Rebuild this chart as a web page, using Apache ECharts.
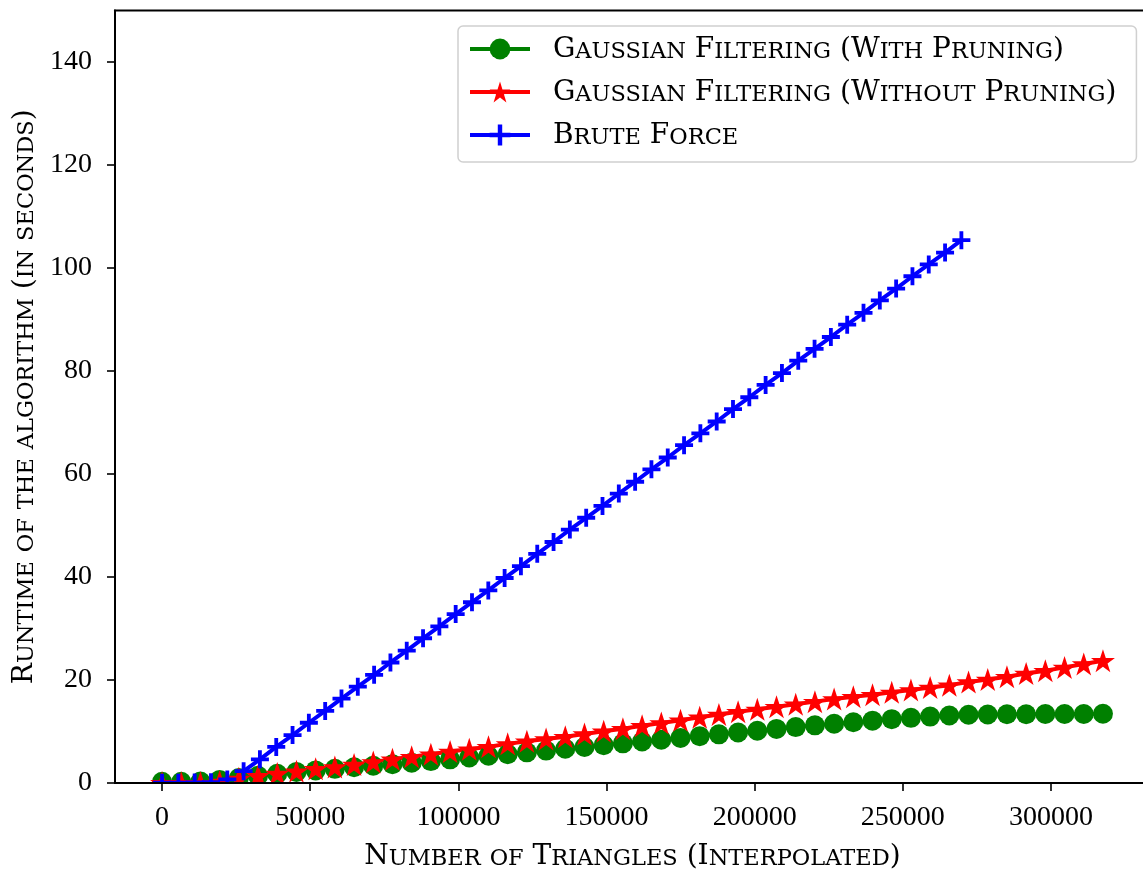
<!DOCTYPE html>
<html><head><meta charset="utf-8">
<script src="https://cdn.jsdelivr.net/npm/echarts@6/dist/echarts.min.js"></script>
<style>html,body{margin:0;padding:0;background:#fff}#c{width:1143px;height:869px}</style>
</head><body><div id="c"></div>
<script>
const seriesNames = ['Gaussian Filtering (With Pruning)', 'Gaussian Filtering (Without Pruning)', 'Brute Force'];
const xTitle = 'Number of Triangles (Interpolated)';
const yTitle = 'Runtime of the algorithm (in seconds)';
const xTicks = [0, 50000, 100000, 150000, 200000, 250000, 300000];
const yTicks = [0, 20, 40, 60, 80, 100, 120, 140];

const filterX = [0,6480,12960,19440,25920,32400,38880,45360,51840,58320,64800,71280,77760,84240,90720,97200,103680,110160,116640,123120,129600,136080,142560,149040,155520,162000,168480,174960,181440,187920,194400,200880,207360,213840,220320,226800,233280,239760,246240,252720,259200,265680,272160,278640,285120,291600,298080,304560,311040,317520];
const withPruning = [0.25,0.25,0.3,0.6,0.95,1.4,1.8,2.15,2.45,2.75,3.05,3.35,3.65,3.95,4.25,4.6,4.95,5.3,5.6,5.95,6.3,6.65,7.0,7.35,7.7,8.05,8.4,8.75,9.1,9.45,9.8,10.15,10.5,10.85,11.2,11.5,11.8,12.1,12.4,12.65,12.9,13.1,13.25,13.3,13.35,13.35,13.4,13.4,13.4,13.45];
const withoutPruning = [0.05,0.05,0.05,0.3,0.9,1.4,1.85,2.3,2.75,3.1,3.6,4.1,4.6,5.1,5.6,6.1,6.55,7.05,7.6,8.1,8.55,9.0,9.5,10.05,10.55,11.1,11.65,12.2,12.75,13.3,13.85,14.3,14.8,15.3,15.8,16.3,16.75,17.15,17.6,18.05,18.55,19.0,19.6,20.1,20.65,21.25,21.8,22.45,23.1,23.75];
const bruteX = [0,5505,11010,16515,22020,27525,33030,38535,44040,49545,55050,60555,66060,71565,77070,82575,88080,93585,99090,104595,110100,115605,121110,126615,132120,137625,143130,148635,154140,159645,165150,170655,176160,181665,187170,192675,198180,203685,209190,214695,220200,225705,231210,236715,242220,247725,253230,258735,264240,269745];
const bruteForce = [0.05,0.05,0.1,0.15,0.7,2.3,4.6,7.0,9.3,11.7,14.0,16.4,18.7,21.0,23.4,25.7,28.1,30.4,32.8,35.1,37.4,39.8,42.1,44.5,46.8,49.2,51.5,53.8,56.2,58.5,60.9,63.2,65.6,67.9,70.2,72.6,74.9,77.3,79.6,82.0,84.3,86.6,89.0,91.3,93.7,96.0,98.4,100.7,103.0,105.4];

function smallCaps(str) {
  let out = '', cur = null, buf = '';
  for (const ch of str) {
    let st, c;
    if (ch >= 'a' && ch <= 'z') { st = 's'; c = ch.toUpperCase(); } else { st = 'b'; c = ch; }
    if (st !== cur) { if (buf) out += '{' + cur + '|' + buf + '}'; cur = st; buf = ''; }
    buf += c;
  }
  if (buf) out += '{' + cur + '|' + buf + '}';
  return out;
}

const FONT = 'DejaVu Serif';
function richStyles(lh) {
  return {
    b: { fontFamily: FONT, fontSize: 28, lineHeight: lh, verticalAlign: 'bottom', color: '#000' },
    s: { fontFamily: FONT, fontSize: 22.5, lineHeight: lh, verticalAlign: 'bottom', color: '#000' },
    g: { width: 18, lineHeight: lh }
  };
}

const starPath = 'path://M0,-100 L22.45,-30.9 L95.1,-30.9 L36.3,11.8 L58.8,80.9 L0,38.2 L-58.8,80.9 L-36.3,11.8 L-95.1,-30.9 L-22.45,-30.9 Z';
const crossPath = 'path://M-1.7,-8 L1.7,-8 L1.7,-1.7 L8,-1.7 L8,1.7 L1.7,1.7 L1.7,8 L-1.7,8 L-1.7,1.7 L-8,1.7 L-8,-1.7 L-1.7,-1.7 Z';

const chart = echarts.init(document.getElementById('c'), null, { renderer: 'canvas' });
chart.setOption({
  animation: false,
  backgroundColor: '#fff',
  grid: { left: 115, top: 10.5, right: -7, bottom: 86, containLabel: false, outerBoundsMode: 'none',
          show: true, borderColor: '#000', borderWidth: 2, backgroundColor: 'transparent' },
  legend: {
    orient: 'vertical', left: 458, top: 26, padding: [10, 20, 12, 10],
    itemWidth: 60, itemHeight: 26, itemGap: 15,
    borderColor: '#d0d0d0', borderWidth: 1.5, borderRadius: 5, backgroundColor: 'rgba(255,255,255,0.85)',
    lineStyle: { width: 4 },
    data: seriesNames,
    formatter: n => '{g|}' + smallCaps(n),
    textStyle: { rich: richStyles(30) }
  },
  xAxis: {
    type: 'value', min: -15876, max: 333396, z: 100,
    axisLine: { show: true, onZero: false, lineStyle: { color: '#000', width: 2 } },
    axisTick: { show: true, length: 8, customValues: xTicks, lineStyle: { color: '#000', width: 1.6 } },
    axisLabel: { customValues: xTicks, formatter: v => String(v), fontFamily: 'Liberation Serif', fontSize: 28, color: '#000', margin: 21 },
    splitLine: { show: false },
    name: smallCaps(xTitle), nameLocation: 'middle', nameGap: 54,
    nameTextStyle: { rich: richStyles(34) }
  },
  yAxis: {
    type: 'value', min: 0, max: 150, z: 100,
    axisLine: { show: true, onZero: false, lineStyle: { color: '#000', width: 2 } },
    axisTick: { show: true, length: 8, customValues: yTicks, lineStyle: { color: '#000', width: 1.6 } },
    axisLabel: { customValues: yTicks, formatter: v => String(v), fontFamily: 'Liberation Serif', fontSize: 28, color: '#000', margin: 23 },
    splitLine: { show: false },
    name: smallCaps(yTitle), nameLocation: 'middle', nameGap: 75, nameRotate: 90,
    nameTextStyle: { rich: richStyles(34) }
  },
  graphic: [{ type: 'rect', z: 50, shape: { x: 0, y: 784, width: 1143, height: 85 }, style: { fill: '#fff' } }],
  series: [
    { name: seriesNames[0], type: 'line', data: filterX.map((x, i) => [x, withPruning[i]]),
      symbol: 'circle', symbolSize: 20, showAllSymbol: true, clip: false,
      lineStyle: { color: '#008000', width: 4 }, itemStyle: { color: '#008000' } },
    { name: seriesNames[1], type: 'line', data: filterX.map((x, i) => [x, withoutPruning[i]]),
      symbol: starPath, symbolSize: [24, 23], showAllSymbol: true, clip: false,
      lineStyle: { color: '#ff0000', width: 4 }, itemStyle: { color: '#ff0000' } },
    { name: seriesNames[2], type: 'line', data: bruteX.map((x, i) => [x, bruteForce[i]]),
      symbol: crossPath, symbolSize: 18, showAllSymbol: true, clip: false,
      lineStyle: { color: '#0000ff', width: 4 }, itemStyle: { color: '#0000ff' } }
  ]
});
</script></body></html>
